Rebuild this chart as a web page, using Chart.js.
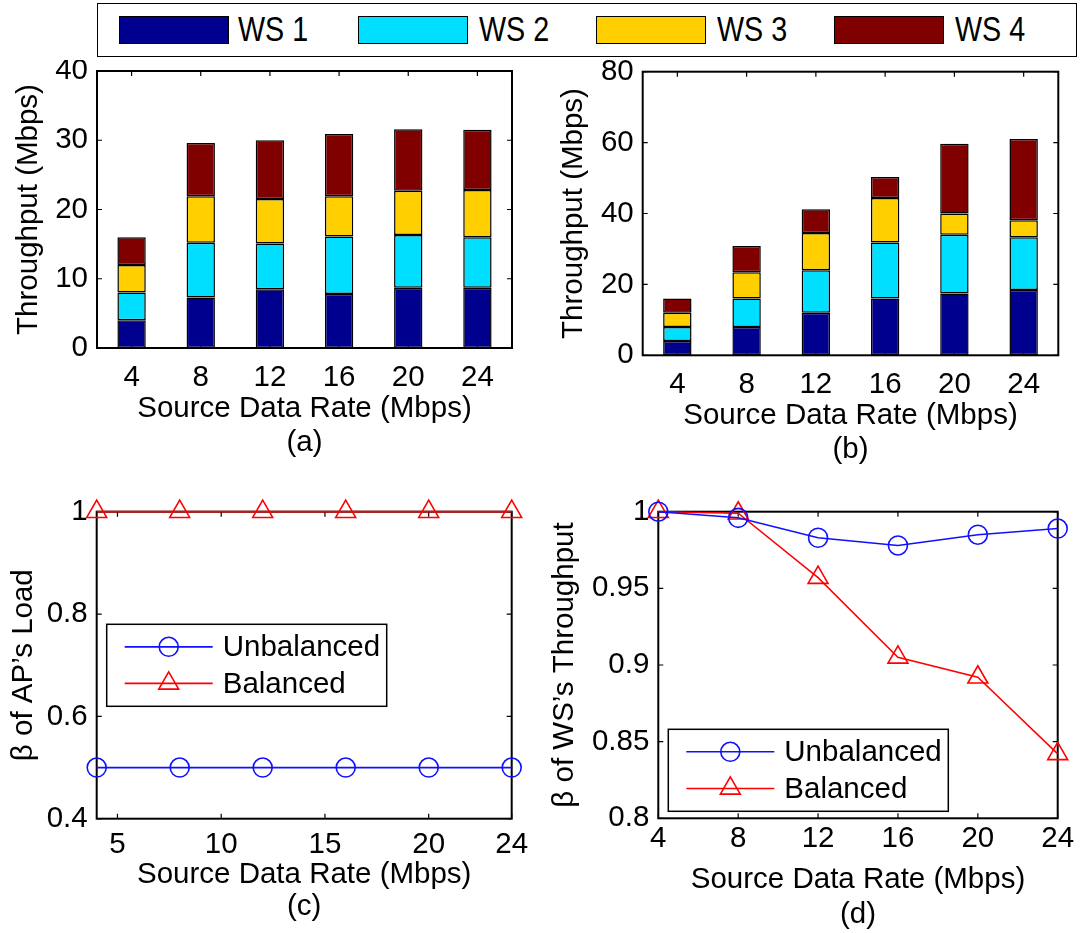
<!DOCTYPE html>
<html>
<head>
<meta charset="utf-8">
<script src="https://cdn.jsdelivr.net/npm/chart.js@4.4.0/dist/chart.umd.min.js"></script>
<style>
  body { margin: 0; background: #fff; }
  #page { position: relative; width: 1082px; height: 933px; overflow: hidden; font-family: "Liberation Sans", Arial, sans-serif; }
  .wrap { position: absolute; }
  #topLegend { position: absolute; left: 97px; top: 3px; width: 980px; height: 54px; border: 1.5px solid #000; box-sizing: border-box; }
  .sw { position: absolute; top: 16px; width: 110px; height: 28px; border: 1px solid #000; box-sizing: border-box; }
  .lt { position: absolute; top: 12px; font-size: 35px; line-height: 36px; transform: scaleX(0.82); transform-origin: left center; white-space: nowrap; }
</style>
</head>
<body>
<div id="page">
  <div id="topLegend"></div>
  <div class="wrap" id="wa"><canvas id="chartA"></canvas></div>
  <div class="wrap" id="wb"><canvas id="chartB"></canvas></div>
  <div class="wrap" id="wc"><canvas id="chartC"></canvas></div>
  <div class="wrap" id="wd"><canvas id="chartD"></canvas></div>
</div>
<script>
// ---- data ----
var rates = ['4', '8', '12', '16', '20', '24'];
var rateNums = [4, 8, 12, 16, 20, 24];
var wsNames = ['WS 1', 'WS 2', 'WS 3', 'WS 4'];
var wsColors = ['#00008f', '#00dfff', '#ffcf00', '#800000'];

// (a) throughput per WS, unbalanced
var a_ws1 = [4, 7.3, 8.5, 7.8, 8.7, 8.7];
var a_ws2 = [4, 7.9, 6.6, 8.3, 7.6, 7.3];
var a_ws3 = [4, 6.7, 6.4, 5.8, 6.4, 6.8];
var a_ws4 = [4, 7.7, 8.5, 9.0, 8.9, 8.7];

// (b) throughput per WS, balanced
var b_ws1 = [4, 8, 12, 16, 17.4, 18.4];
var b_ws2 = [4, 8, 12, 15.8, 16.6, 14.9];
var b_ws3 = [4, 7.4, 10.5, 12.6, 6.0, 4.8];
var b_ws4 = [4, 7.4, 6.7, 5.9, 19.7, 22.9];

// (c) beta of AP's load
var c_unbal = [0.5, 0.5, 0.5, 0.5, 0.5, 0.5];
var c_bal = [1, 1, 1, 1, 1, 1];
var cTicks = [5, 10, 15, 20, 24];

// (d) beta of WS's throughput
var d_unbal = [1, 0.996, 0.983, 0.978, 0.985, 0.989];
var d_bal = [1, 0.999, 0.957, 0.905, 0.892, 0.842];

var lineNames = ['Unbalanced', 'Balanced'];

// ---- defaults ----
var FONT = '"Liberation Sans", Arial, sans-serif';
var FS = 29.5;
Chart.defaults.font.family = FONT;
Chart.defaults.font.size = FS;
Chart.defaults.color = '#000';
Chart.defaults.animation = false;

// top legend (shared)
var tl = document.getElementById('topLegend');
var swX = [118, 357, 595, 833];
var txX = [237, 478, 716, 954];
wsNames.forEach(function (n, i) {
  var s = document.createElement('div');
  s.className = 'sw';
  s.style.left = (swX[i] - 97) + 'px';
  s.style.top = '12px';
  s.style.background = wsColors[i];
  tl.appendChild(s);
  var t = document.createElement('div');
  t.className = 'lt';
  t.style.left = (txX[i] - 97) + 'px';
  t.style.top = '7px';
  t.textContent = n;
  tl.appendChild(t);
});

// axes box with inward ticks, matlab style
var framePlugin = {
  id: 'frame',
  beforeDatasetsDraw: function (chart) {
    var a = chart.chartArea, ctx = chart.ctx;
    var xs = chart.scales.x, ys = chart.scales.y;
    ctx.save();
    ctx.strokeStyle = '#000';
    ctx.lineWidth = 1.2;
    ctx.beginPath();
    xs.ticks.forEach(function (t, i) {
      var px = xs.getPixelForTick(i);
      ctx.moveTo(px, a.bottom); ctx.lineTo(px, a.bottom - 5);
      ctx.moveTo(px, a.top); ctx.lineTo(px, a.top + 5);
    });
    ys.ticks.forEach(function (t, i) {
      var py = ys.getPixelForTick(i);
      ctx.moveTo(a.left, py); ctx.lineTo(a.left + 5, py);
      ctx.moveTo(a.right, py); ctx.lineTo(a.right - 5, py);
    });
    ctx.stroke();
    ctx.lineWidth = 2;
    ctx.strokeRect(a.left, a.top, a.right - a.left, a.bottom - a.top);
    ctx.restore();
  }
};

// legend box inside the plot for the line charts
var boxLegend = {
  id: 'boxLegend',
  afterDatasetsDraw: function (chart, args, opts) {
    if (!opts || opts.dx === undefined) return;
    var a = chart.chartArea, ctx = chart.ctx;
    var bx = a.left + opts.dx, by = a.top + opts.dy;
    ctx.save();
    ctx.fillStyle = '#fff';
    ctx.fillRect(bx, by, 280, 82);
    ctx.strokeStyle = '#000';
    ctx.lineWidth = 1.5;
    ctx.strokeRect(bx, by, 280, 82);
    chart.data.datasets.forEach(function (ds, i) {
      var yy = by + 22.5 + i * 36.6;
      ctx.strokeStyle = ds.borderColor;
      ctx.lineWidth = ds.borderWidth;
      ctx.beginPath();
      ctx.moveTo(bx + 18, yy); ctx.lineTo(bx + 106, yy);
      ctx.stroke();
      ctx.fillStyle = 'rgba(0,0,0,0)';
      ctx.lineWidth = ds.pointBorderWidth;
      Chart.helpers.drawPoint(ctx, { pointStyle: ds.pointStyle, radius: ds.pointRadius, borderWidth: ds.pointBorderWidth, rotation: 0 }, bx + 62, yy);
      ctx.fillStyle = '#000';
      ctx.textBaseline = 'middle';
      ctx.textAlign = 'left';
      ctx.font = FS + 'px ' + FONT;
      ctx.fillText(ds.label, bx + 116, yy + 1);
    });
    ctx.restore();
  }
};

function fmt(v) { return String(parseFloat(Number(v).toFixed(2))); }

// build options with a fixed plot rectangle (page coordinates)
function makeOptions(L, yOpts, xOpts, legendPos) {
  var wrap = document.getElementById(L.wrap);
  wrap.style.left = L.box[0] + 'px';
  wrap.style.top = L.box[1] + 'px';
  wrap.style.width = L.box[2] + 'px';
  wrap.style.height = L.box[3] + 'px';
  var lh = L.titleLines[1] - L.titleLines[0];
  var boxBottom = L.box[1] + L.box[3];
  var yW = L.plot[0] - L.box[0];
  var xH = boxBottom - L.plot[3];
  var half = FS * 0.6;
  var x = Object.assign({
    grid: { display: false, drawTicks: false },
    border: { display: false },
    ticks: { padding: L.tickCenter - L.plot[3] - half, autoSkip: false, maxRotation: 0, font: { size: FS } },
    title: {
      display: true,
      text: ['Source Data Rate (Mbps)', L.tag],
      font: { size: FS, lineHeight: lh / FS },
      padding: { top: 0, bottom: boxBottom - L.titleLines[1] - lh / 2 }
    },
    afterFit: function (s) { s.height = xH; s.paddingLeft = 0; s.paddingRight = 0; }
  }, xOpts);
  var y = Object.assign({
    grid: { display: false, drawTicks: false },
    border: { display: false },
    title: {
      display: true,
      text: L.yTitle,
      font: { size: FS, lineHeight: 1.2 },
      padding: { top: L.yTitleX - L.box[0] - half, bottom: 0 }
    },
    afterFit: function (s) { s.width = yW; s.paddingTop = 0; s.paddingBottom = 0; }
  }, yOpts);
  y.ticks = Object.assign({ padding: 9, font: { size: FS } }, yOpts.ticks || {});
  return {
    responsive: true,
    maintainAspectRatio: false,
    animation: false,
    layout: { padding: { left: 0, top: L.plot[1] - L.box[1], right: L.box[0] + L.box[2] - L.plot[2], bottom: 0 } },
    plugins: { legend: { display: false }, tooltip: { enabled: false }, boxLegend: legendPos || {} },
    scales: { x: x, y: y }
  };
}

function barSets(arrs) {
  return arrs.map(function (d, i) {
    return {
      label: wsNames[i], data: d, backgroundColor: wsColors[i],
      borderColor: '#000', borderWidth: 1.5, borderSkipped: false,
      barPercentage: 0.41, categoryPercentage: 1
    };
  });
}

function lineSets(unbal, bal, lw) {
  return [
    {
      label: lineNames[0], data: rateNums.map(function (r, i) { return { x: r, y: unbal[i] }; }),
      borderColor: '#1010ff', borderWidth: lw, pointStyle: 'circle', pointRadius: 9.5,
      pointBorderWidth: 1.6, pointBorderColor: '#1010ff', pointBackgroundColor: 'rgba(0,0,0,0)',
      clip: false, tension: 0
    },
    {
      label: lineNames[1], data: rateNums.map(function (r, i) { return { x: r, y: bal[i] }; }),
      borderColor: '#ff0000', borderWidth: lw, pointStyle: 'triangle', pointRadius: 11.5,
      pointBorderWidth: 1.6, pointBorderColor: '#ff0000', pointBackgroundColor: 'rgba(0,0,0,0)',
      clip: false, tension: 0
    }
  ];
}

// (a)
new Chart(document.getElementById('chartA'), {
  type: 'bar',
  data: { labels: rates, datasets: barSets([a_ws1, a_ws2, a_ws3, a_ws4]) },
  options: makeOptions(
    { wrap: 'wa', box: [0, 60, 541, 399], plot: [97, 71, 512, 348], tickCenter: 378, titleLines: [409, 443], tag: '(a)', yTitle: 'Throughput (Mbps)', yTitleX: 28.5 },
    { stacked: true, min: 0, max: 40, ticks: { stepSize: 10 } },
    { stacked: true }
  ),
  plugins: [framePlugin]
});

// (b)
new Chart(document.getElementById('chartB'), {
  type: 'bar',
  data: { labels: rates, datasets: barSets([b_ws1, b_ws2, b_ws3, b_ws4]) },
  options: makeOptions(
    { wrap: 'wb', box: [541, 60, 541, 406], plot: [642.7, 71.7, 1058.3, 355.3], tickCenter: 385, titleLines: [416, 450], tag: '(b)', yTitle: 'Throughput (Mbps)', yTitleX: 574 },
    { stacked: true, min: 0, max: 80, ticks: { stepSize: 20 } },
    { stacked: true }
  ),
  plugins: [framePlugin]
});

// (c)
new Chart(document.getElementById('chartC'), {
  type: 'line',
  data: { datasets: lineSets(c_unbal, c_bal, 1.8) },
  options: makeOptions(
    { wrap: 'wc', box: [0, 480, 541, 443], plot: [96.7, 511.7, 511.7, 818.7], tickCenter: 845, titleLines: [875, 907], tag: '(c)', yTitle: 'β of AP\u2019s Load', yTitleX: 24 },
    { min: 0.4, max: 1, ticks: { stepSize: 0.2, callback: fmt } },
    {
      type: 'linear', min: 4, max: 24,
      afterBuildTicks: function (s) { s.ticks = cTicks.map(function (v) { return { value: v }; }); }
    },
    { dx: 10, dy: 112.6 }
  ),
  plugins: [framePlugin, boxLegend]
});

// (d)
new Chart(document.getElementById('chartD'), {
  type: 'line',
  data: { datasets: lineSets(d_unbal, d_bal, 1.5) },
  options: makeOptions(
    { wrap: 'wd', box: [541, 480, 541, 452], plot: [658.3, 511.7, 1057.7, 818.3], tickCenter: 845, titleLines: [880, 915], tag: '(d)', yTitle: 'β of WS\u2019s Throughput', yTitleX: 565 },
    { min: 0.8, max: 1, ticks: { stepSize: 0.05, callback: fmt } },
    { type: 'linear', min: 4, max: 24, ticks: { stepSize: 4 } },
    { dx: 10, dy: 217.6 }
  ),
  plugins: [framePlugin, boxLegend]
});
</script>
</body>
</html>
